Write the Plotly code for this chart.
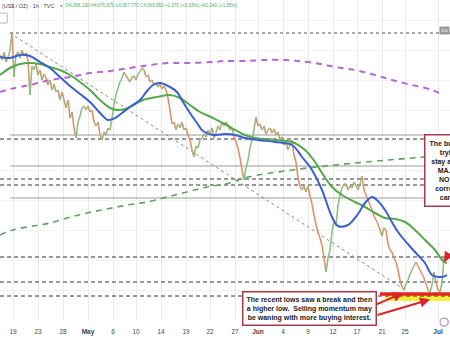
import plotly.graph_objects as go

# ---------------- data ----------------
tick_bars = [26, 76, 126, 176, 226, 272, 322, 372, 420, 470, 516, 566, 616, 666, 714, 764, 810, 876]
tick_text = ["19", "23", "28", "<b>May</b>", "6", "10", "14", "19", "22", "27", "<b>Jun</b>",
             "4", "9", "12", "17", "21", "25", "<b>Jul</b>"]

bar_step = 4
price = [
    4490, 4480, 4496, 4476, 4484, 4500, 4534, 4446, 4490, 4496,
    4484, 4500, 4488, 4494, 4480, 4410, 4468, 4460, 4472, 4450,
    4460, 4440, 4452, 4444, 4430, 4440, 4420, 4432, 4416, 4420,
    4400, 4416, 4400, 4384, 4400, 4364, 4376, 4344, 4324, 4356,
    4368, 4384, 4388, 4380, 4388, 4376, 4380, 4356, 4348, 4356,
    4330, 4320, 4336, 4330, 4344, 4340, 4364, 4392, 4410, 4424,
    4436, 4444, 4456, 4448, 4442, 4436, 4446, 4448, 4440, 4452,
    4456, 4464, 4460, 4446, 4450, 4436, 4440, 4430, 4434, 4426,
    4432, 4422, 4428, 4420, 4404, 4380, 4352, 4356, 4340, 4352,
    4344, 4356, 4340, 4344, 4330, 4320, 4300, 4286, 4308, 4304,
    4320, 4324, 4332, 4326, 4340, 4332, 4344, 4324, 4334, 4348,
    4340, 4356, 4348, 4356, 4348, 4340, 4344, 4328, 4316, 4304,
    4284, 4260, 4240, 4264, 4280, 4304, 4320, 4340, 4366, 4348,
    4352, 4340, 4348, 4332, 4340, 4344, 4334, 4342, 4330, 4336,
    4320, 4326, 4310, 4316, 4300, 4310, 4320, 4290, 4276, 4244,
    4228, 4220, 4228, 4216, 4228, 4208, 4192, 4170, 4150, 4136,
    4124, 4110, 4084, 4056, 4084, 4100, 4136, 4160, 4148, 4190,
    4210, 4224, 4232, 4232, 4220, 4228, 4224, 4236, 4228, 4220,
    4232, 4248, 4220, 4210, 4200, 4190, 4180, 4168, 4160, 4152,
    4140, 4128, 4144, 4140, 4112, 4100, 4096, 4084, 4076, 4060,
    4040, 4026, 4020, 4032, 4040, 4052, 4060, 4068, 4076, 4068,
    4060, 4052, 4044, 4032, 4020, 4016, 4030, 4056, 4036, 4020,
    4016, 4034, 4084, 4074,
]
bars = [i * bar_step for i in range(len(price))]

ma100_x = [0, 20, 40, 60, 80, 100, 120, 140, 160, 180, 200, 216, 230, 244, 260, 280, 294, 306, 320,
           340, 354, 366, 380, 394, 406, 426, 450, 470, 490, 516, 550, 584, 604, 624, 644, 664, 676,
           696, 716, 730, 744, 756, 770, 796, 830, 850, 864, 884, 894]
ma100_y = [4486, 4484, 4490, 4488, 4476, 4464, 4446, 4428, 4412, 4396, 4374, 4360, 4364, 4374, 4386,
           4400, 4418, 4430, 4434, 4426, 4416, 4396, 4374, 4354, 4338, 4330, 4332, 4330, 4324, 4320,
           4316, 4310, 4286, 4260, 4220, 4166, 4148, 4150, 4172, 4194, 4206, 4198, 4180, 4136, 4096,
           4074, 4050, 4046, 4050]

ma200_x = [0, 20, 40, 60, 80, 100, 120, 140, 160, 180, 200, 220, 236, 250, 266, 286, 314, 340, 360,
           380, 400, 426, 450, 470, 490, 510, 550, 584, 610, 630, 644, 664, 684, 710, 730, 750, 770,
           790, 810, 830, 850, 870, 886, 894]
ma200_y = [4450, 4464, 4472, 4474, 4472, 4466, 4460, 4450, 4436, 4420, 4400, 4384, 4380, 4382, 4390,
           4400, 4406, 4410, 4404, 4390, 4376, 4364, 4352, 4340, 4330, 4324, 4320, 4316, 4300, 4276,
           4254, 4226, 4210, 4196, 4186, 4174, 4164, 4162, 4156, 4140, 4120, 4100, 4078, 4074]

dma_purple_x = [0, 20, 60, 100, 140, 180, 220, 260, 300, 340, 380, 426, 450, 490, 530, 570, 596,
                630, 670, 710, 750, 784, 824, 864, 886]
dma_purple_y = [4416, 4422, 4430, 4440, 4446, 4454, 4458, 4464, 4470, 4474, 4474, 4476, 4478, 4478,
                4480, 4480, 4478, 4474, 4466, 4460, 4450, 4440, 4430, 4420, 4410]

dma_green_x = [0, 26, 66, 100, 134, 174, 214, 254, 294, 334, 374, 414, 450, 496, 584, 670, 776, 850]
dma_green_y = [4130, 4140, 4148, 4154, 4164, 4174, 4182, 4190, 4196, 4206, 4216, 4226, 4232, 4246,
               4260, 4270, 4280, 4286]

high_level = 4534
solid_levels = [4330, 4268, 4204]
dashed_levels = [4322, 4242, 4230, 4086, 4036, 4008]
trend_x = [20, 810]
trend_y = [4534, 4020]
support_zone = [3998, 4010]
support_line = 4012

# ---------------- figure ----------------
X0, X1 = 0, 900
Y0, Y1 = 3960, 4600
FONT = "Liberation Sans, Arial, sans-serif"

fig = go.Figure()

# candles as up / down segments
ux, uy, dx, dy = [], [], [], []
for i in range(1, len(price)):
    if price[i] >= price[i - 1]:
        ux += [bars[i - 1], bars[i], None]; uy += [price[i - 1], price[i], None]
    else:
        dx += [bars[i - 1], bars[i], None]; dy += [price[i - 1], price[i], None]

fig.add_trace(go.Scatter(x=dx, y=dy, mode="lines", line=dict(color="#e0916a", width=1.6), hoverinfo="skip"))
fig.add_trace(go.Scatter(x=ux, y=uy, mode="lines", line=dict(color="#8cbf84", width=1.6), hoverinfo="skip"))

fig.add_trace(go.Scatter(x=dma_purple_x, y=dma_purple_y, mode="lines", line_shape="spline",
                         line=dict(color="#b565d6", width=2, dash="6px,5px")))
fig.add_trace(go.Scatter(x=dma_green_x, y=dma_green_y, mode="lines", line_shape="spline",
                         line=dict(color="#5fa35a", width=1.6, dash="6px,5px")))
fig.add_trace(go.Scatter(x=ma200_x, y=ma200_y, mode="lines", line_shape="spline",
                         line=dict(color="#55a84a", width=2)))
fig.add_trace(go.Scatter(x=ma100_x, y=ma100_y, mode="lines", line_shape="spline",
                         line=dict(color="#3a5fd0", width=2)))

shapes = []
shapes.append(dict(type="rect", xref="x", yref="y", x0=770, x1=X1, y0=support_zone[0], y1=support_zone[1],
                   fillcolor="#f6ef3a", line_width=0, layer="between"))
shapes.append(dict(type="line", xref="x", yref="y", x0=20, x1=X1, y0=high_level, y1=high_level,
                   line=dict(color="#8a8a8a", width=1.6, dash="dot"), layer="between"))
for lv in solid_levels:
    shapes.append(dict(type="line", xref="x", yref="y", x0=20, x1=X1, y0=lv, y1=lv,
                       line=dict(color="#9a9a9a", width=1), layer="between"))
for lv in dashed_levels:
    shapes.append(dict(type="line", xref="x", yref="y", x0=X0, x1=X1, y0=lv, y1=lv,
                       line=dict(color="#333333", width=1.2, dash="4px,3px"), layer="between"))
shapes.append(dict(type="line", xref="x", yref="y", x0=trend_x[0], x1=trend_x[1], y0=trend_y[0], y1=trend_y[1],
                   line=dict(color="#888888", width=1, dash="dot"), layer="between"))
shapes.append(dict(type="line", xref="x", yref="y", x0=760, x1=X1, y0=support_line, y1=support_line,
                   line=dict(color="#e0261f", width=3.5), layer="above"))
shapes.append(dict(type="rect", xref="paper", yref="paper", x0=-0.01, x1=0.016, y0=0.928, y1=0.959,
                   line=dict(color="#b5b5b5", width=1), fillcolor="white", layer="above"))
shapes.append(dict(type="circle", xref="paper", yref="paper", x0=0.978, x1=0.996, y0=-0.019, y1=0.006,
                   line=dict(color="#9b6bd8", width=1), fillcolor="white", layer="above"))
fig.update_layout(shapes=shapes)

annotations = []
annotations.append(dict(xref="paper", yref="paper", x=0, y=0.982, xanchor="left", yanchor="middle",
                        showarrow=False, text="(US$ / OZ) · 1h · TVC",
                        font=dict(family=FONT, size=5.4, color="#444444")))
annotations.append(dict(xref="paper", yref="paper", x=0.128, y=0.982, xanchor="left", yanchor="middle",
                        showarrow=False,
                        text="●  O4,068.130 H4,070.670 L4,067.770 C4,068.950 +1.070 (+0.03%) +62.240 (+1.55%)",
                        font=dict(family=FONT, size=4.6, color="#3fae6a")))
annotations.append(dict(xref="paper", yref="y", x=1, y=4540, xanchor="right", yanchor="middle",
                        showarrow=False, text="100", bgcolor="#9a9a9a",
                        font=dict(family=FONT, size=4, color="white")))
annotations.append(dict(xref="x", yref="y", x=618, y=3984, xanchor="center", yanchor="middle",
                        showarrow=False, align="center",
                        text="<b>The recent lows saw a break and then<br>a higher low.  Selling momentum may<br>"
                             "be waning with more buying interest.</b>",
                        font=dict(family=FONT, size=7, color="#1a1a1a"),
                        bgcolor="white", bordercolor="#a83a4a", borderwidth=1.5, borderpad=3))
annotations.append(dict(xref="x", yref="y", x=848, y=4260, xanchor="left", yanchor="middle",
                        showarrow=False, align="center",
                        text="<b>The buyers are now<br>trying hard to<br>stay above the 200<br>MA. If they can<br>"
                             "NOT, a deeper<br>correction lower<br>can continue.</b>",
                        font=dict(family=FONT, size=7, color="#1a1a1a"),
                        bgcolor="white", bordercolor="#a83a4a", borderwidth=1.5, borderpad=4))
for hx, hy, ax, ay in [(806, 4014, -28, 12), (860, 4001, -54, 16), (888, 4076, 16, -10)]:
    annotations.append(dict(xref="x", yref="y", x=hx, y=hy, ax=ax, ay=ay, axref="pixel", ayref="pixel",
                            text="", showarrow=True, arrowhead=2, arrowsize=1, arrowwidth=2,
                            arrowcolor="#d8262a"))
fig.update_layout(annotations=annotations)

fig.update_layout(
    width=450, height=338,
    margin=dict(l=0, r=0, t=0, b=18),
    paper_bgcolor="white", plot_bgcolor="white",
    showlegend=False,
    font=dict(family=FONT),
    xaxis=dict(range=[X0, X1], tickmode="array", tickvals=tick_bars, ticktext=tick_text,
               showgrid=True, gridcolor="#e9e9e9", gridwidth=1, zeroline=False, showline=False,
               ticks="outside", ticklen=5, tickcolor="rgba(0,0,0,0)",
               tickfont=dict(size=6.5, color="#444444", family=FONT), fixedrange=True),
    yaxis=dict(range=[Y0, Y1], showticklabels=False, showgrid=True, dtick=60, gridcolor="#f2f2f2",
               zeroline=False, showline=False, ticks="", fixedrange=True),
)

fig.write_html("out.html", config={"displayModeBar": False})
